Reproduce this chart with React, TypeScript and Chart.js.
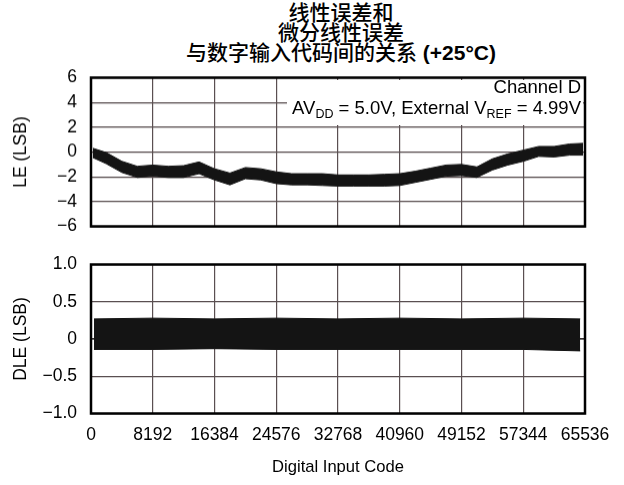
import React, { useEffect, useRef } from "react";
import { Chart, registerables } from "chart.js";

Chart.register(...registerables);

// ---------- data ----------
const CODE_MIN = 0;
const CODE_MAX = 65536;
const CODE_STEP = 8192;
const LE_MIN = -6;
const LE_MAX = 6;
const LE_STEP = 2;
const DLE_MIN = -1;
const DLE_MAX = 1;
const DLE_STEP = 0.5;

// LE (LSB) noise band (upper / lower envelope)
const LE_CODES = [
  256, 2048, 4096, 6144, 8192, 10240, 12288, 14336, 16384, 18432, 20480,
  22528, 24576, 26624, 28672, 30720, 32768, 34816, 36864, 38912, 40960,
  43008, 45056, 47104, 49152, 51200, 53248, 55296, 57344, 59392, 61440,
  63488, 65280,
];
const LE_UPPER = [
  0.3, -0.05, -0.75, -1.15, -1.05, -1.15, -1.1, -0.8, -1.35, -1.7, -1.25,
  -1.35, -1.6, -1.75, -1.75, -1.75, -1.85, -1.85, -1.85, -1.8, -1.75,
  -1.55, -1.3, -1.05, -1.0, -1.2, -0.55, -0.15, 0.15, 0.45, 0.45, 0.65, 0.7,
];
const LE_LOWER = [
  -0.45, -0.95, -1.65, -2.05, -1.95, -2.05, -2.05, -1.75, -2.25, -2.65,
  -2.15, -2.25, -2.55, -2.65, -2.65, -2.7, -2.75, -2.75, -2.75, -2.75,
  -2.7, -2.45, -2.2, -1.95, -1.9, -2.05, -1.45, -1.05, -0.75, -0.35, -0.4,
  -0.25, -0.25,
];

// DLE (LSB) band
const DLE_CODES = [400, 8192, 16384, 24576, 32768, 40960, 49152, 57344, 64900];
const DLE_UPPER = [0.27, 0.28, 0.27, 0.28, 0.27, 0.28, 0.27, 0.28, 0.27];
const DLE_LOWER = [-0.14, -0.14, -0.13, -0.14, -0.14, -0.14, -0.14, -0.14, -0.16];
const DLE_ZERO_CODES = [0, 65536];
const DLE_ZERO = [0, 0];

const FONT = "'Liberation Sans', Arial, Helvetica, sans-serif";
const GRID = "#5a4f51";
const INK = "#141414";
const TICK_SIZE = 17.5;

const pts = (xs: number[], ys: number[]) => xs.map((x, i) => ({ x, y: ys[i] }));
const minus = (s: string) => s.replace("-", "\u2212");

const framePlugin = {
  id: "frame",
  afterDraw(chart: any) {
    const { ctx, chartArea } = chart;
    const { left, top, right, bottom } = chartArea;
    ctx.save();
    ctx.strokeStyle = "#000";
    ctx.lineWidth = 2.5;
    ctx.strokeRect(left, top, right - left, bottom - top);
    ctx.restore();
  },
};

function PlotCanvas({ config, left, top, width, height }: { config: any; left: number; top: number; width: number; height: number }) {
  const ref = useRef<HTMLCanvasElement | null>(null);
  useEffect(() => {
    if (!ref.current) return;
    const chart = new Chart(ref.current, config);
    return () => chart.destroy();
  }, []);
  return (
    <div style={{ position: "absolute", left, top, width, height }}>
      <canvas ref={ref} width={width} height={height} style={{ display: "block", width, height }} />
    </div>
  );
}

const xScale = (showLabels: boolean, axisHeight: number) => ({
  type: "linear",
  min: CODE_MIN,
  max: CODE_MAX,
  ticks: {
    stepSize: CODE_STEP,
    display: showLabels,
    autoSkip: false,
    maxRotation: 0,
    padding: 11,
    color: "#000",
    font: { family: FONT, size: TICK_SIZE },
    callback: (v: any) => String(v),
  },
  grid: { color: GRID, lineWidth: 1.2, drawTicks: false },
  border: { display: false },
  title: {
    display: showLabels,
    text: "Digital Input Code",
    color: "#000",
    font: { family: FONT, size: 16.6 },
    padding: { top: 0, bottom: 8 },
  },
  afterFit: (s: any) => {
    s.height = axisHeight;
  },
});

const yScale = (min: number, max: number, step: number, title: string, fmt: (v: number) => string) => ({
  type: "linear",
  min,
  max,
  ticks: {
    stepSize: step,
    padding: 14,
    color: "#000",
    font: { family: FONT, size: TICK_SIZE },
    callback: (v: any) => fmt(Number(v)),
  },
  grid: { color: GRID, lineWidth: 1.2, drawTicks: false },
  border: { display: false },
  title: {
    display: true,
    text: title,
    color: "#000",
    font: { family: FONT, size: 17.5 },
    padding: { top: 11, bottom: 0 },
  },
  afterFit: (s: any) => {
    s.width = 91;
  },
});

const bandDatasets = (codes: number[], upper: number[], lower: number[]) => [
  {
    data: pts(codes, upper),
    fill: "+1",
    backgroundColor: INK,
    borderColor: INK,
    borderWidth: 1,
    pointRadius: 0,
    tension: 0,
  },
  {
    data: pts(codes, lower),
    fill: false,
    borderColor: INK,
    borderWidth: 1,
    pointRadius: 0,
    tension: 0,
  },
];

const common = {
  type: "line",
  plugins: [framePlugin],
};

const leConfig = {
  ...common,
  data: { datasets: bandDatasets(LE_CODES, LE_UPPER, LE_LOWER) },
  options: {
    animation: false,
    responsive: false,
    maintainAspectRatio: false,
    layout: { padding: { top: 20.5, right: 39, left: 0, bottom: 0 } },
    plugins: { legend: { display: false }, tooltip: { enabled: false } },
    scales: {
      x: xScale(false, 11),
      y: yScale(LE_MIN, LE_MAX, LE_STEP, "LE (LSB)", (v) => minus(String(v))),
    },
  },
};

const dleConfig = {
  ...common,
  data: {
    datasets: [
      ...bandDatasets(DLE_CODES, DLE_UPPER, DLE_LOWER),
      {
        data: pts(DLE_ZERO_CODES, DLE_ZERO),
        fill: false,
        borderColor: INK,
        borderWidth: 1.2,
        pointRadius: 0,
      },
    ],
  },
  options: {
    animation: false,
    responsive: false,
    maintainAspectRatio: false,
    layout: { padding: { top: 24, right: 39, left: 0, bottom: 0 } },
    plugins: { legend: { display: false }, tooltip: { enabled: false } },
    scales: {
      x: xScale(true, 71.5),
      y: yScale(DLE_MIN, DLE_MAX, DLE_STEP, "DLE (LSB)", (v) =>
        v === 0 ? "0" : minus(v.toFixed(1))
      ),
    },
  },
};

export default function App() {
  const subStyle: React.CSSProperties = {
    fontSize: 12.5,
    verticalAlign: "baseline",
    position: "relative",
    top: 4,
    lineHeight: 0,
  };
  return (
    <div
      style={{
        position: "fixed",
        left: 0,
        top: 0,
        width: 624,
        height: 485,
        background: "#fff",
        fontFamily: FONT,
        color: "#000",
        overflow: "hidden",
      }}
    >
      <div
        style={{
          position: "absolute",
          left: 141,
          top: 3,
          width: 400,
          textAlign: "center",
          fontSize: 21,
          lineHeight: "20px",
          fontWeight: 500,
          fontFamily: "'Liberation Sans', 'Noto Sans CJK SC', sans-serif",
          whiteSpace: "nowrap",
        }}
      >
        <div>线性误差和</div>
        <div>微分线性误差</div>
        <div>
          与数字输入代码间的关系 <b>(+25°C)</b>
        </div>
      </div>

      <PlotCanvas config={leConfig} left={0} top={53} width={624} height={197.5} />
      <PlotCanvas config={dleConfig} left={0} top={240} width={624} height={245} />

      <div
        style={{
          position: "absolute",
          left: 287,
          top: 79.5,
          width: 296,
          height: 45.5,
          background: "#fff",
          fontSize: 18.5,
          lineHeight: "18px",
          whiteSpace: "nowrap",
        }}
      >
        <div style={{ position: "absolute", right: 2, top: -1.3 }}>Channel D</div>
        <div style={{ position: "absolute", right: 2, top: 19 }}>
          AV<sub style={subStyle}>DD</sub> = 5.0V, External V
          <sub style={subStyle}>REF</sub> = 4.99V
        </div>
      </div>
    </div>
  );
}
